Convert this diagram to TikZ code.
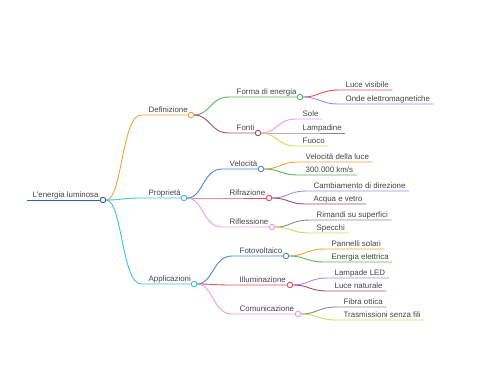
\documentclass[tikz,border=0pt]{standalone}
\usepackage{fontspec}
\setmainfont{Liberation Sans}
\usetikzlibrary{positioning}

\definecolor{txtc}{HTML}{444444}
\definecolor{rootc}{HTML}{2D63A8}
\definecolor{orangec}{HTML}{F2A23E}
\definecolor{cyanc}{HTML}{3CC4D4}
\definecolor{greenc}{HTML}{58B558}
\definecolor{maroonc}{HTML}{A64D6A}
\definecolor{redc}{HTML}{E0505E}
\definecolor{purplec}{HTML}{A08AE0}
\definecolor{pinkc}{HTML}{EC9BE0}
\definecolor{grayc}{HTML}{8A8A8A}
\definecolor{limec}{HTML}{CDDC5A}
\definecolor{bluec}{HTML}{4B88C8}

\begin{document}
\begin{tikzpicture}[
    x=1pt, y=-1pt,
    % Styles
    edge/.style={line width=0.9pt},
    hub/.style={circle, draw, fill=white, line width=0.9pt, minimum size=5.5pt, inner sep=0pt},
    lbl/.style={font=\fontsize{7.9}{9}\selectfont, text=txtc, inner sep=0.5pt, text depth=1.6pt, anchor=south west},
    bend/.style={controls +(19,0) and +(-19,0)}
]
    \useasboundingbox (0,0) rectangle (480,384);

    % --- Root ---
    \coordinate (rootk) at (27,200);
    \node [lbl, above right=0pt and 5pt of rootk] (root) {L'energia luminosa};
    \node [hub, draw=rootc] (rootc) at (103,200) {};

    % --- Level 1 ---
    \coordinate (defk) at (141,115);
    \coordinate (prk) at (141,198);
    \coordinate (appk) at (141,284);
    \node [lbl, above right=0pt and 7pt of defk] (def) {Definizione};
    \node [lbl, above right=0pt and 7pt of prk] (pr) {Proprietà};
    \node [lbl, above right=0pt and 7pt of appk] (app) {Applicazioni};
    \node [hub, draw=orangec] (defc) at (191,115) {};
    \node [hub, draw=cyanc] (prc) at (184,198) {};
    \node [hub, draw=cyanc] (appc) at (194,284) {};

    % --- Level 2 ---
    \coordinate (fmk) at (229,97);
    \coordinate (fok) at (229,133);
    \node [lbl, above right=0pt and 7pt of fmk] (fm) {Forma di energia};
    \node [lbl, above right=0pt and 7pt of fok] (fo) {Fonti};
    \node [hub, draw=greenc] (fmc) at (300,97) {};
    \node [hub, draw=maroonc] (foc) at (258,133) {};

    \coordinate (vek) at (222,169);
    \coordinate (rfk) at (222,198);
    \coordinate (rlk) at (222,227);
    \node [lbl, above right=0pt and 7pt of vek] (ve) {Velocità};
    \node [lbl, above right=0pt and 7pt of rfk] (rf) {Rifrazione};
    \node [lbl, above right=0pt and 7pt of rlk] (rl) {Riflessione};
    \node [hub, draw=bluec] (vec) at (261,169) {};
    \node [hub, draw=redc] (rfc) at (269,198) {};
    \node [hub, draw=pinkc] (rlc) at (272,227) {};

    \coordinate (fvk) at (232,256);
    \coordinate (ilk) at (232,285);
    \coordinate (cok) at (232,314);
    \node [lbl, above right=0pt and 7pt of fvk] (fv) {Fotovoltaico};
    \node [lbl, above right=0pt and 7pt of ilk] (il) {Illuminazione};
    \node [lbl, above right=0pt and 7pt of cok] (co) {Comunicazione};
    \node [hub, draw=bluec] (fvc) at (286,256) {};
    \node [hub, draw=redc] (ilc) at (290,285) {};
    \node [hub, draw=pinkc] (coc) at (298,314) {};

    % --- Leaves ---
    \coordinate (lvk) at (339,90);
    \coordinate (onk) at (339,104);
    \node [lbl, above right=0pt and 6pt of lvk] (lv) {Luce visibile};
    \node [lbl, above right=0pt and 6pt of onk] (on) {Onde elettromagnetiche};

    \coordinate (sok) at (296,119);
    \coordinate (lak) at (296,133);
    \coordinate (fuk) at (296,146);
    \node [lbl, above right=0pt and 6pt of sok] (so) {Sole};
    \node [lbl, above right=0pt and 6pt of lak] (la) {Lampadine};
    \node [lbl, above right=0pt and 6pt of fuk] (fu) {Fuoco};

    \coordinate (vlk) at (299,162);
    \coordinate (kmk) at (299,175);
    \node [lbl, above right=0pt and 6pt of vlk] (vl) {Velocità della luce};
    \node [lbl, above right=0pt and 6pt of kmk] (km) {300.000 km/s};

    \coordinate (cdk) at (307,191);
    \coordinate (avk) at (307,204);
    \node [lbl, above right=0pt and 6pt of cdk] (cd) {Cambiamento di direzione};
    \node [lbl, above right=0pt and 6pt of avk] (av) {Acqua e vetro};

    \coordinate (rsk) at (310,220);
    \coordinate (spk) at (310,233);
    \node [lbl, above right=0pt and 6pt of rsk] (rs) {Rimandi su superfici};
    \node [lbl, above right=0pt and 6pt of spk] (sp) {Specchi};

    \coordinate (psk) at (325,249);
    \coordinate (eek) at (325,262);
    \node [lbl, above right=0pt and 6pt of psk] (ps) {Pannelli solari};
    \node [lbl, above right=0pt and 6pt of eek] (ee) {Energia elettrica};

    \coordinate (ledk) at (328,278);
    \coordinate (lnk) at (328,291);
    \node [lbl, above right=0pt and 6pt of ledk] (led) {Lampade LED};
    \node [lbl, above right=0pt and 6pt of lnk] (ln) {Luce naturale};

    \coordinate (fok2) at (337,307);
    \coordinate (tsk) at (337,320);
    \node [lbl, above right=0pt and 6pt of fok2] (fb) {Fibra ottica};
    \node [lbl, above right=0pt and 6pt of tsk] (ts) {Trasmissioni senza fili};

    % --- Connections ---
    \draw [edge, rootc] (rootk) -- (rootc);
    \draw [edge, orangec] (rootc) .. controls +(19,0) and +(-19,0) .. (defk) -- (defc);
    \draw [edge, cyanc] (rootc) .. controls +(19,0) and +(-19,0) .. (prk) -- (prc);
    \draw [edge, cyanc] (rootc) .. controls +(19,0) and +(-19,0) .. (appk) -- (appc);

    \draw [edge, greenc] (defc) .. controls +(19,0) and +(-19,0) .. (fmk) -- (fmc);
    \draw [edge, maroonc] (defc) .. controls +(19,0) and +(-19,0) .. (fok) -- (foc);
    \draw [edge, bluec] (prc) .. controls +(19,0) and +(-19,0) .. (vek) -- (vec);
    \draw [edge, redc] (prc) .. controls +(19,0) and +(-19,0) .. (rfk) -- (rfc);
    \draw [edge, pinkc] (prc) .. controls +(19,0) and +(-19,0) .. (rlk) -- (rlc);
    \draw [edge, bluec] (appc) .. controls +(19,0) and +(-19,0) .. (fvk) -- (fvc);
    \draw [edge, redc] (appc) .. controls +(19,0) and +(-19,0) .. (ilk) -- (ilc);
    \draw [edge, pinkc] (appc) .. controls +(19,0) and +(-19,0) .. (cok) -- (coc);

    % Leaves
    \draw [edge, redc] (fmc) .. controls +(19,0) and +(-19,0) .. (lvk) -- ([xshift=3pt]lv.south east);
    \draw [edge, purplec] (fmc) .. controls +(19,0) and +(-19,0) .. (onk) -- ([xshift=3pt]on.south east);
    \draw [edge, pinkc] (foc) .. controls +(19,0) and +(-19,0) .. (sok) -- ([xshift=3pt]so.south east);
    \draw [edge, grayc] (foc) -- (lak) -- ([xshift=3pt]la.south east);
    \draw [edge, limec] (foc) .. controls +(19,0) and +(-19,0) .. (fuk) -- ([xshift=3pt]fu.south east);
    \draw [edge, orangec] (vec) .. controls +(19,0) and +(-19,0) .. (vlk) -- ([xshift=3pt]vl.south east);
    \draw [edge, greenc] (vec) .. controls +(19,0) and +(-19,0) .. (kmk) -- ([xshift=3pt]km.south east);
    \draw [edge, purplec] (rfc) .. controls +(19,0) and +(-19,0) .. (cdk) -- ([xshift=3pt]cd.south east);
    \draw [edge, maroonc] (rfc) .. controls +(19,0) and +(-19,0) .. (avk) -- ([xshift=3pt]av.south east);
    \draw [edge, grayc] (rlc) .. controls +(19,0) and +(-19,0) .. (rsk) -- ([xshift=3pt]rs.south east);
    \draw [edge, limec] (rlc) .. controls +(19,0) and +(-19,0) .. (spk) -- ([xshift=3pt]sp.south east);
    \draw [edge, orangec] (fvc) .. controls +(19,0) and +(-19,0) .. (psk) -- ([xshift=3pt]ps.south east);
    \draw [edge, greenc] (fvc) .. controls +(19,0) and +(-19,0) .. (eek) -- ([xshift=3pt]ee.south east);
    \draw [edge, purplec] (ilc) .. controls +(19,0) and +(-19,0) .. (ledk) -- ([xshift=3pt]led.south east);
    \draw [edge, maroonc] (ilc) .. controls +(19,0) and +(-19,0) .. (lnk) -- ([xshift=3pt]ln.south east);
    \draw [edge, grayc] (coc) .. controls +(19,0) and +(-19,0) .. (fok2) -- ([xshift=3pt]fb.south east);
    \draw [edge, limec] (coc) .. controls +(19,0) and +(-19,0) .. (tsk) -- ([xshift=3pt]ts.south east);
\end{tikzpicture}
\end{document}
